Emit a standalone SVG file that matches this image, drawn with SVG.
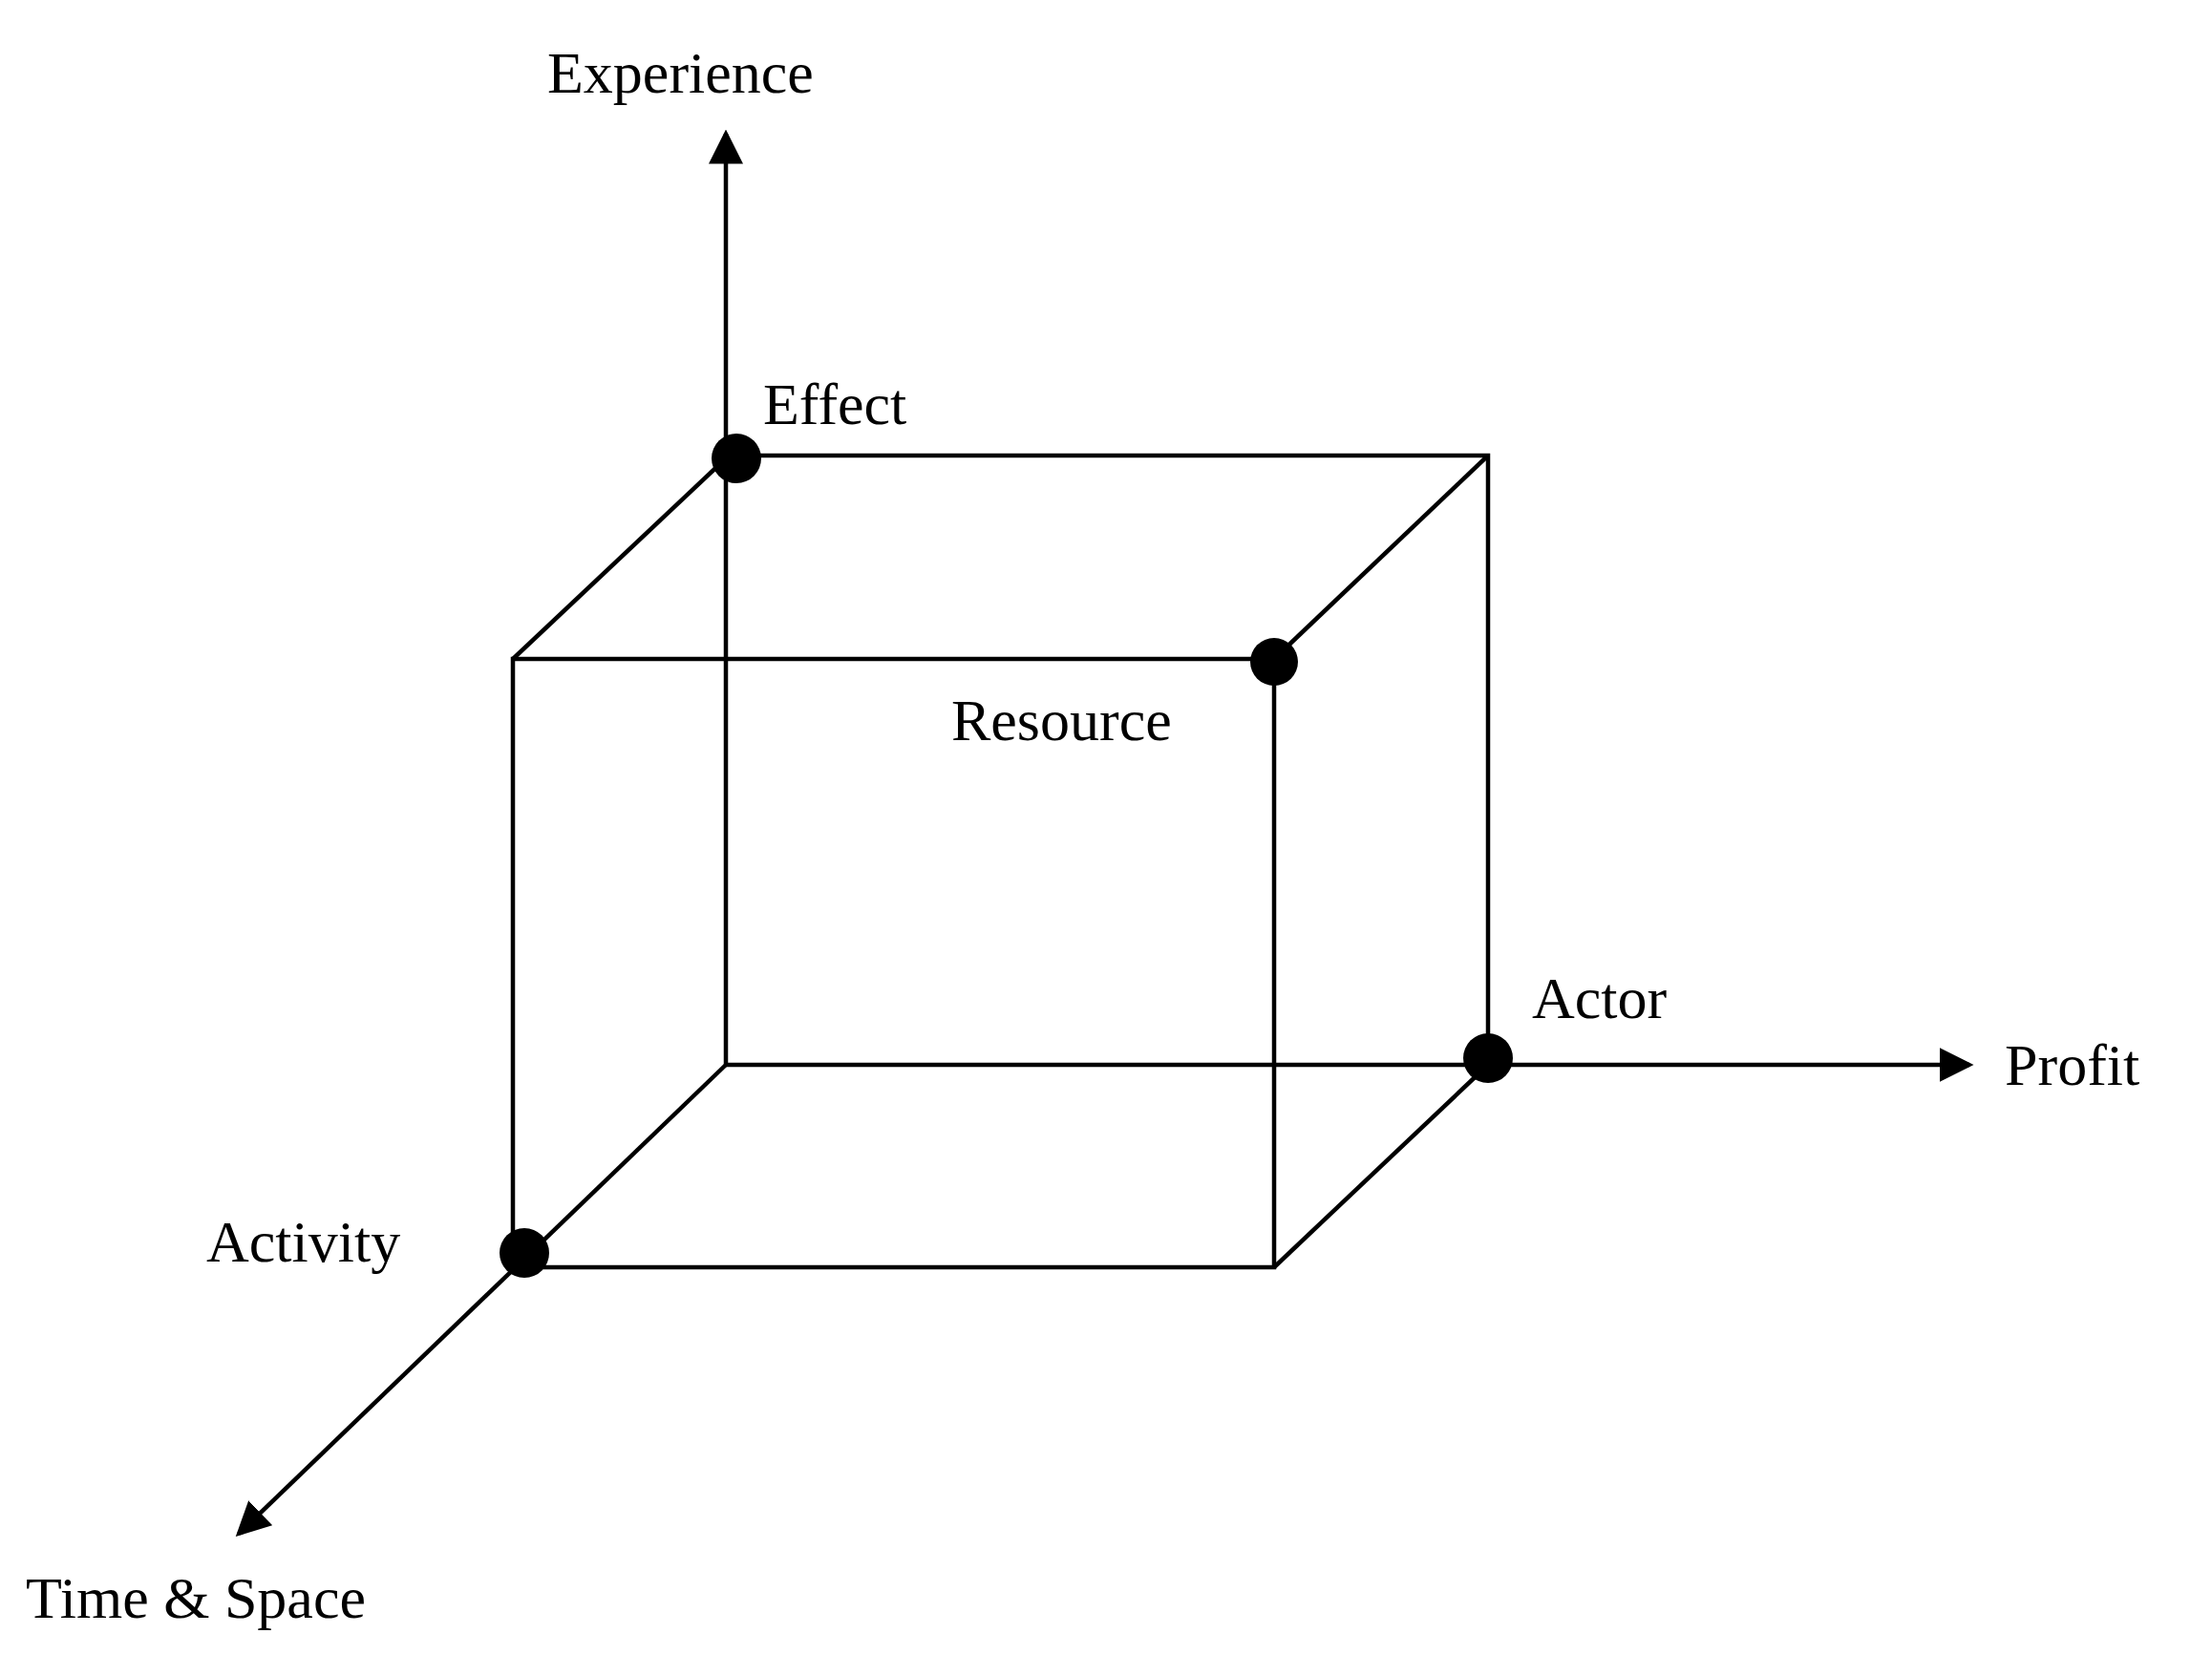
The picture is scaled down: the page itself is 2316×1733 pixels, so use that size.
<svg xmlns="http://www.w3.org/2000/svg" width="2316" height="1733" viewBox="0 0 2316 1733">
<style>
.l{stroke:#000;stroke-width:4.5;fill:none}
text{font-family:"Liberation Serif",serif;font-size:62px;fill:#000}
</style>
<defs><marker id="a" markerWidth="8" markerHeight="8" refX="7" refY="4" orient="auto" markerUnits="strokeWidth"><path d="M0,0 L8,4 L0,8 z" fill="#000"/></marker></defs>
<rect width="2316" height="1733" fill="#fff"/>
<g id="connectors">
<line class="l" x1="760" y1="1115" x2="760" y2="140" marker-end="url(#a)"/>
<line class="l" x1="760" y1="1115" x2="2062" y2="1115" marker-end="url(#a)"/>
<line class="l" x1="760" y1="1115" x2="250" y2="1606" marker-end="url(#a)"/>
<polyline class="l" points="771,477 1558,477 1558,1115"/>
<rect class="l" x="537" y="690" width="797" height="637"/>
<line class="l" x1="537" y1="690" x2="760" y2="480"/>
<line class="l" x1="1334" y1="690" x2="1558" y2="477"/>
<line class="l" x1="1334" y1="1327" x2="1558" y2="1115"/>
</g>
<g id="effect"><circle cx="771" cy="480" r="26"/><text x="799" y="444">Effect</text></g>
<g id="resource"><circle cx="1334" cy="693" r="25"/><text x="996" y="775">Resource</text></g>
<g id="actor"><circle cx="1558" cy="1108" r="26"/><text x="1604" y="1066">Actor</text></g>
<g id="activity"><circle cx="549" cy="1312" r="26"/><text x="216" y="1321">Activity</text></g>
<g id="experience"><text x="573" y="97">Experience</text></g>
<g id="profit"><text x="2099" y="1136">Profit</text></g>
<g id="timespace"><text x="27" y="1694">Time &amp; Space</text></g>
</svg>
